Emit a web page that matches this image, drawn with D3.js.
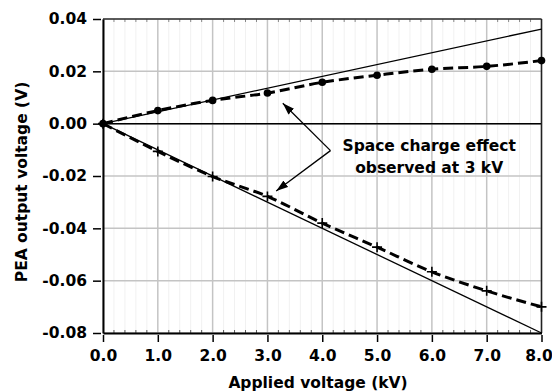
<!DOCTYPE html>
<html>
<head>
<meta charset="utf-8">
<script src="https://cdn.jsdelivr.net/npm/d3@7/dist/d3.min.js"></script>
<style>
  html, body { margin: 0; padding: 0; background: #fff; }
  svg text { font-family: "DejaVu Sans", Verdana, sans-serif; font-weight: bold; fill: #000; }
</style>
</head>
<body>
<svg id="chart" width="552" height="392"></svg>
<script>
// Applied voltage steps (kV)
const voltages = [0, 1, 2, 3, 4, 5, 6, 7, 8];
// Measured PEA output, positive polarity (V)
const positiveMeasured = [0, 0.0050, 0.0089, 0.0117, 0.0158, 0.0185, 0.0208, 0.0219, 0.0241];
// Measured PEA output, negative polarity (V)
const negativeMeasured = [0, -0.0106, -0.0202, -0.0278, -0.0380, -0.0472, -0.0566, -0.0639, -0.0700];
// Linear references (V per kV)
const positiveSlope = 0.00452;
const negativeSlope = -0.0100;
// Axis ticks
const xTicks = [0, 1, 2, 3, 4, 5, 6, 7, 8];
const yTicks = [-0.08, -0.06, -0.04, -0.02, 0.00, 0.02, 0.04];
// Annotation text and arrow geometry (data units)
const noteLines = ["Space charge effect", "observed at 3 kV"];
const noteAnchor = { x: 5.95, y: -0.0106 };
const arrowFrom = { x: 4.15, y: -0.0103 };
const arrowTips = [{ x: 3.28, y: 0.0078 }, { x: 3.16, y: -0.0257 }];

const svg = d3.select("#chart");
const W = 552, H = 392;
const m = { top: 19, right: 10.5, bottom: 59, left: 103 };
const iw = W - m.left - m.right, ih = H - m.top - m.bottom;

const x = d3.scaleLinear().domain([0, 8]).range([0, iw]);
const y = d3.scaleLinear().domain([-0.08, 0.04]).range([ih, 0]);

const g = svg.append("g").attr("transform", `translate(${m.left},${m.top})`);

// Minor vertical gridlines every 0.2 kV
const minorX = d3.range(0, 8.0001, 0.2).filter(v => Math.abs(v - Math.round(v)) > 1e-6);
g.append("g").selectAll("line").data(minorX).join("line")
  .attr("x1", d => x(d)).attr("x2", d => x(d))
  .attr("y1", 0).attr("y2", ih)
  .attr("stroke", "#f1f1f1").attr("stroke-width", 1);

// Major gridlines
g.append("g").selectAll("line").data(xTicks).join("line")
  .attr("x1", d => x(d)).attr("x2", d => x(d))
  .attr("y1", 0).attr("y2", ih)
  .attr("stroke", "#c4c4c4").attr("stroke-width", 1.5);
g.append("g").selectAll("line").data(yTicks).join("line")
  .attr("x1", 0).attr("x2", iw)
  .attr("y1", d => y(d)).attr("y2", d => y(d))
  .attr("stroke", "#c4c4c4").attr("stroke-width", 1.5);

// Zero line
g.append("line").attr("x1", 0).attr("x2", iw)
  .attr("y1", y(0)).attr("y2", y(0))
  .attr("stroke", "#000").attr("stroke-width", 1.5);

// Minor ticks along top and bottom edges
g.append("g").selectAll("line").data(minorX).join("line")
  .attr("x1", d => x(d)).attr("x2", d => x(d))
  .attr("y1", 0).attr("y2", 3)
  .attr("stroke", "#888").attr("stroke-width", 1);
g.append("g").selectAll("line").data(minorX).join("line")
  .attr("x1", d => x(d)).attr("x2", d => x(d))
  .attr("y1", ih - 3).attr("y2", ih)
  .attr("stroke", "#555").attr("stroke-width", 1);

// Frame
g.append("line").attr("x1", 0).attr("x2", iw).attr("y1", 0).attr("y2", 0)
  .attr("stroke", "#333").attr("stroke-width", 1.5);
g.append("line").attr("x1", iw).attr("x2", iw).attr("y1", 0).attr("y2", ih)
  .attr("stroke", "#222").attr("stroke-width", 1.5);

// Axes
const xAxis = d3.axisBottom(x).tickValues(xTicks).tickFormat(d3.format(".1f"))
  .tickSizeInner(9).tickSizeOuter(0).tickPadding(8);
const yAxis = d3.axisLeft(y).tickValues(yTicks).tickFormat(d => d3.format(".2f")(d).replace("−", "-"))
  .tickSizeInner(10).tickSizeOuter(0).tickPadding(6);

const gx = g.append("g").attr("transform", `translate(0,${ih})`).call(xAxis);
const gy = g.append("g").call(yAxis);
[gx, gy].forEach(a => {
  a.select(".domain").attr("stroke", "#000").attr("stroke-width", 2);
  a.selectAll(".tick line").attr("stroke", "#000").attr("stroke-width", 1.5);
  a.selectAll(".tick text").style("font-size", "15.5px").style("font-weight", "bold")
    .style("font-family", '"DejaVu Sans", Verdana, sans-serif').attr("fill", "#000");
});
gy.selectAll(".tick line").attr("x2", -10).attr("x1", -2);
gx.selectAll(".tick line").attr("y1", 2);
// keep the last label inside the page edge
gx.selectAll(".tick text").filter(d => d === 8).attr("dx", "-3");

// Linear reference lines
const line = d3.line().x(d => x(d[0])).y(d => y(d[1]));
[positiveSlope, negativeSlope].forEach(s => {
  g.append("path").datum([[0, 0], [8, 8 * s]])
    .attr("d", line).attr("fill", "none")
    .attr("stroke", "#000").attr("stroke-width", 1.3);
});

// Measured curves (dashed)
const curve = d3.line().x(d => x(d[0])).y(d => y(d[1])).curve(d3.curveMonotoneX);
const posPts = voltages.map((v, i) => [v, positiveMeasured[i]]);
const negPts = voltages.map((v, i) => [v, negativeMeasured[i]]);
[posPts, negPts].forEach(p => {
  g.append("path").datum(p).attr("d", curve).attr("fill", "none")
    .attr("stroke", "#000").attr("stroke-width", 3)
    .attr("stroke-dasharray", "10,5");
});

// Markers
g.append("g").selectAll("circle").data(posPts).join("circle")
  .attr("cx", d => x(d[0])).attr("cy", d => y(d[1])).attr("r", 3.8).attr("fill", "#000");
g.append("g").selectAll("path").data(negPts).join("path")
  .attr("d", d => {
    const cx = x(d[0]), cy = y(d[1]), r = 5;
    return `M${cx - r},${cy}H${cx + r}M${cx},${cy - r}V${cy + r}`;
  })
  .attr("stroke", "#000").attr("stroke-width", 1.6).attr("fill", "none");

// Annotation arrows
const defs = svg.append("defs");
defs.append("marker").attr("id", "head")
  .attr("viewBox", "0 0 12 8").attr("refX", 12).attr("refY", 4)
  .attr("markerWidth", 12).attr("markerHeight", 8)
  .attr("markerUnits", "userSpaceOnUse").attr("orient", "auto")
  .append("path").attr("d", "M0,0L12,4L0,8Z").attr("fill", "#000");
arrowTips.forEach(t => {
  g.append("line")
    .attr("x1", x(arrowFrom.x)).attr("y1", y(arrowFrom.y))
    .attr("x2", x(t.x)).attr("y2", y(t.y))
    .attr("stroke", "#000").attr("stroke-width", 1.3)
    .attr("marker-end", "url(#head)");
});

// Annotation text
const note = g.append("text").attr("text-anchor", "middle")
  .attr("x", x(noteAnchor.x)).attr("y", y(noteAnchor.y))
  .style("font-size", "15.5px");
noteLines.forEach((t, i) => note.append("tspan")
  .attr("x", x(noteAnchor.x)).attr("dy", i === 0 ? 0 : 21.5).text(t));

// Axis titles
svg.append("text").attr("text-anchor", "middle")
  .attr("x", 318).attr("y", 388)
  .style("font-size", "15.5px").text("Applied voltage (kV)");
svg.append("text").attr("text-anchor", "middle")
  .attr("transform", "translate(27,182) rotate(-90)")
  .style("font-size", "15.5px").text("PEA output voltage (V)");
</script>
</body>
</html>
